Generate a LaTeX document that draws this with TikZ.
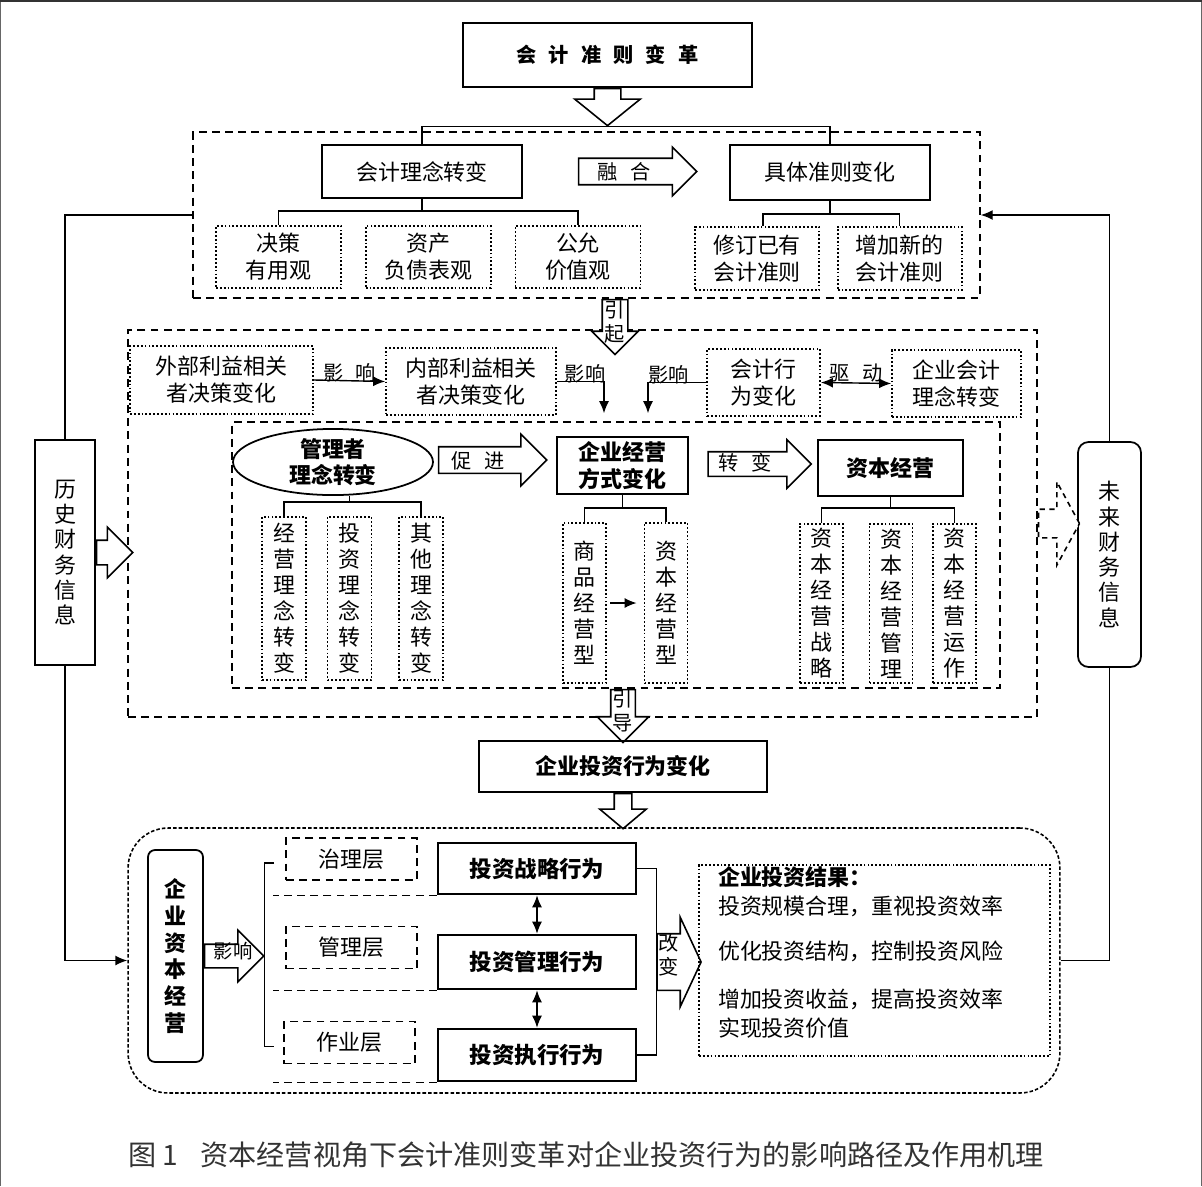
\documentclass[tikz,border=0pt]{standalone}
\usepackage{fontspec}
\setmainfont{Noto Sans CJK SC}
\usetikzlibrary{arrows.meta,positioning,calc,shapes.geometric,shapes.arrows}

\newcommand{\zsp}[1][0.6em]{\hspace{#1}}

\begin{document}
\begin{tikzpicture}[
    x=0.02cm, y=-0.02cm,
    font=\fontsize{12.5}{15}\selectfont,
    box/.style={draw, line width=1pt, align=center, inner sep=1pt},
    bbox/.style={box, font=\fontsize{12.5}{15}\selectfont\bfseries},
    dotbox/.style={draw, line width=1pt, dash pattern=on 1pt off 1.2pt, align=center,
                   inner sep=1pt, font=\fontsize{12.5}{15.5}\selectfont},
    vbox/.style={dotbox, font=\fontsize{12.5}{14.8}\selectfont},
    grp/.style={draw, line width=0.9pt, dash pattern=on 4.5pt off 3pt, inner sep=0pt},
    lay/.style={draw, line width=0.9pt, dash pattern=on 4.5pt off 3pt, align=center},
    harr/.style={single arrow, draw, fill=white, line width=0.9pt, inner xsep=0pt,
                 single arrow tip angle=90},
    tag/.style={inner sep=0pt, align=center, font=\fontsize{11.5}{14}\selectfont},
    link/.style={line width=0.8pt},
    arr/.style={link, -{Latex[length=2.4mm,width=2mm]}},
    darr/.style={link, {Latex[length=2.4mm,width=2mm]}-{Latex[length=2.4mm,width=2mm]}}
  ]
  \useasboundingbox (0,0) rectangle (1202,1186);
  \draw[black!60, line width=0.6pt] (0,1186) -- (0,0) -- (1202,0) -- (1202,1186);
  \draw[black!80, line width=2pt] (0,0) -- (1202,0);

  % standards reform
  \node[bbox, minimum width=5.78cm, minimum height=1.28cm,
        font=\fontsize{11.5}{14}\selectfont\bfseries] (title) at (607.5,55)
        {会\zsp{}计\zsp{}准\zsp{}则\zsp{}变\zsp{}革};
  \node[grp, minimum width=15.74cm, minimum height=3.32cm] (grpA) at (586.5,215) {};
  \node[harr, rotate=-90, anchor=tail, minimum height=0.74cm, inner ysep=0.25cm,
        single arrow head extend=0.39cm, single arrow tip angle=102] (arrTop) at (title.south) {};
  \node[box, minimum width=4cm, minimum height=1.06cm] (idea) at (422,171.5) {会计理念转变};
  \node[box, minimum width=4cm, minimum height=1.1cm] (rule) at (830,172.5) {具体准则变化};
  \node[harr, minimum height=2.36cm, inner ysep=0.25cm, single arrow head extend=0.22cm] (arrFuse) at (631,171.5) {};
  \node[tag] (lblFuse) at (624,172) {融\zsp{}合};
  \node[dotbox, minimum width=2.5cm, minimum height=1.24cm] (v1) at (278.5,257) {决策\\有用观};
  \node[dotbox, minimum width=2.5cm, minimum height=1.24cm, right=0.46cm of v1] (v2) {资产\\负债表观};
  \node[dotbox, minimum width=2.5cm, minimum height=1.24cm, right=0.46cm of v2] (v3) {公允\\价值观};
  \node[dotbox, minimum width=2.48cm, minimum height=1.26cm] (r1) at (757,258.5) {修订已有\\会计准则};
  \node[dotbox, minimum width=2.48cm, minimum height=1.26cm, right=0.34cm of r1] (r2) {增加新的\\会计准则};

  \draw[link] (idea.north) |- (arrTop.tip) -| (rule.north);
  \coordinate (jA) at ($(v1.north)+(0,-14)$);
  \draw[link] (v1.north) -- (jA) -| (v3.north);
  \draw[link] (idea.south) -- (idea.south |- jA);
  \coordinate (jR) at ($(r1.north)+(6,-12)$);
  \draw[link] (jR |- r1.north) -- (jR) -| (r2.north);
  \draw[link] (rule.south) -- (rule.south |- jR);

  % stakeholders and operation mode
  \node[grp, minimum width=18.18cm, minimum height=7.74cm] (grpB) at (582.5,523.5) {};
  \node[grp, minimum width=15.36cm, minimum height=5.32cm] (grpC) at (616,555) {};
  \node[harr, rotate=-90, anchor=tail, minimum height=1.1cm, inner ysep=0.24cm,
        single arrow head extend=0.21cm] (arrCause) at ($(grpA.south)+(28.5,0)$) {};
  \node[tag, font=\fontsize{11.5}{14}\selectfont] (lblCause) at (615,322) {引\\起};

  \node[dotbox, minimum width=3.66cm, minimum height=1.36cm] (ext) at (221.5,380) {外部利益相关\\者决策变化};
  \node[dotbox, minimum width=3.4cm, minimum height=1.34cm] (int) at (471,381.5) {内部利益相关\\者决策变化};
  \node[dotbox, minimum width=2.26cm, minimum height=1.34cm] (acct) at (763.5,382.5) {会计行\\为变化};
  \node[dotbox, minimum width=2.58cm, minimum height=1.34cm] (firm) at (956.5,383.5) {企业会计\\理念转变};
  \draw[arr] (ext.east) -- node[tag, above=-1pt] (lblExt) {影\zsp{}响} (int.west);
  \coordinate (inA) at ($(grpC.north)+(-12,-8)$);
  \coordinate (inB) at ($(grpC.north)+(32,-8)$);
  \draw[arr] (int.east) -| node[tag, pos=0.3, above=-1pt] (lblInt) {影响} (inA);
  \draw[arr] (acct.west) -| node[tag, pos=0.32, above=-1pt] (lblAcct) {影响} (inB);
  \draw[darr] (acct.east) -- node[tag, above=0pt] (lblDrive) {驱\zsp{}动} (firm.west);

  \node[ellipse, draw, line width=1pt, inner sep=0pt, minimum width=4cm, minimum height=1.2cm,
        align=center, font=\fontsize{12.5}{14.5}\selectfont\bfseries] (mgr) at (333,462) {管理者\\理念转变};
  \node[harr, minimum height=2.16cm, inner ysep=0.25cm, single arrow head extend=0.25cm] (arrPromote) at (486,460) {};
  \node[tag] (lblPromote) at (478,461) {促\zsp{}进};
  \node[bbox, minimum width=2.62cm, minimum height=1.14cm] (mode) at (622.5,465.5) {企业经营\\方式变化};
  \node[harr, minimum height=2.06cm, inner ysep=0.23cm, single arrow head extend=0.24cm] (arrTurn) at (753.5,464) {};
  \node[tag] (lblTurn) at (745,463) {转\zsp{}变};
  \node[bbox, minimum width=2.9cm, minimum height=1.12cm] (cap) at (890.5,468) {资本经营};

  \node[vbox, minimum width=0.88cm, minimum height=3.26cm] (c1) at (284,598.5) {经\\营\\理\\念\\转\\变};
  \node[vbox, minimum width=0.88cm, minimum height=3.26cm] (c2) at (349.5,598.5) {投\\资\\理\\念\\转\\变};
  \node[vbox, minimum width=0.88cm, minimum height=3.26cm] (c3) at (421,598.5) {其\\他\\理\\念\\转\\变};
  \node[vbox, minimum width=0.86cm, minimum height=3.2cm] (m1) at (584.5,603) {商\\品\\经\\营\\型};
  \node[vbox, minimum width=0.86cm, minimum height=3.2cm] (m2) at (666,603) {资\\本\\经\\营\\型};
  \node[vbox, minimum width=0.86cm, minimum height=3.18cm] (k1) at (821.5,603.5) {资\\本\\经\\营\\战\\略};
  \node[vbox, minimum width=0.86cm, minimum height=3.18cm] (k2) at (891,603.5) {资\\本\\经\\营\\管\\理};
  \node[vbox, minimum width=0.86cm, minimum height=3.18cm] (k3) at (954.5,603.5) {资\\本\\经\\营\\运\\作};

  \coordinate (jC) at ($(c1.north)+(0,-14)$);
  \draw[link] (c1.north) -- (jC) -| (c3.north);
  \draw[link] (c2.north |- mgr.south) -- (c2.north |- jC);
  \coordinate (jM) at ($(m1.north)+(0,-14)$);
  \draw[link] (m1.north) -- (jM) -| (m2.north);
  \draw[link] (mode.south) -- (mode.south |- jM);
  \coordinate (jK) at ($(k1.north)+(0,-15)$);
  \draw[link] (k1.north) -- (jK) -| (k3.north);
  \draw[link] (cap.south) -- (cap.south |- jK);
  \draw[arr, shorten <=2pt, shorten >=4pt] (m1.east) -- (m2.west);

  % investment behaviour
  \node[harr, rotate=-90, anchor=tail, minimum height=1.06cm, inner ysep=0.23cm,
        single arrow head extend=0.27cm] (arrGuide) at ($(grpC.south)+(7,0)$) {};
  \node[tag] (lblGuide) at (623,711) {引\\导};
  \node[bbox, minimum width=5.76cm, minimum height=1.02cm] (invest) at (623,766.5) {企业投资行为变化};
  \node[harr, rotate=-90, anchor=tail, minimum height=0.7cm, inner ysep=0.16cm,
        single arrow head extend=0.29cm, single arrow tip angle=100] (arrInv) at (invest.south) {};

  \node[draw, line width=0.9pt, dash pattern=on 2pt off 1.2pt, rounded corners=0.8cm,
        minimum width=18.64cm, minimum height=5.3cm] (grpD) at (594,960.5) {};
  \node[box, rounded corners=4pt, minimum width=1.1cm, minimum height=4.24cm,
        font=\fontsize{12.5}{15.3}\selectfont\bfseries] (capOp) at (175.5,956) {企\\业\\资\\本\\经\\营};
  \node[harr, anchor=tail, minimum height=1.18cm, inner ysep=0.22cm,
        single arrow head extend=0.28cm] (arrInf) at (capOp.east) {};
  \node[tag, font=\fontsize{11}{13}\selectfont] (lblInf) at (233,951) {影响};

  \node[lay, minimum width=2.62cm, minimum height=0.84cm] (gov) at (351.5,859) {治理层};
  \node[lay, minimum width=2.62cm, minimum height=0.84cm] (mid) at (351.5,947.5) {管理层};
  \node[lay, minimum width=2.62cm, minimum height=0.84cm] (ops) at (349.5,1042.5) {作业层};
  \node[bbox, line width=1.5pt, minimum width=3.96cm, minimum height=1.02cm,
        font=\fontsize{12.8}{15}\selectfont\bfseries] (strat) at (537,868.5) {投资战略行为};
  \node[bbox, line width=1.5pt, minimum width=3.96cm, minimum height=1.08cm,
        font=\fontsize{12.8}{15}\selectfont\bfseries] (mgmt) at (537,962) {投资管理行为};
  \node[bbox, line width=1.5pt, minimum width=3.96cm, minimum height=1.04cm,
        font=\fontsize{12.8}{15}\selectfont\bfseries] (exe) at (537,1055) {投资执行行为};

  \draw[link] ($(gov.west)+(-11,4)$) -| (arrInf.tip) |- ($(ops.west)+(-9,4)$);
  \draw[lay] (strat.south west) -- ++(-164,0);
  \draw[lay] (mgmt.south west) -- ++(-164,0);
  \draw[lay] (exe.south west) -- ++(-164,0);
  \draw[darr] (strat.south) -- (mgmt.north);
  \draw[darr] (mgmt.south) -- (exe.north);
  \coordinate (jS) at ($(strat.east)+(19,0)$);
  \draw[link] (strat.east) -- (jS) |- (exe.east);
  \node[harr, anchor=tail, minimum height=0.88cm, inner ysep=0.55cm,
        single arrow head extend=0.33cm, single arrow tip angle=130] (arrChg) at (jS |- mgmt.east) {};
  \node[tag] (lblChg) at (669,955) {改\\变};

  \node[dotbox, align=left, minimum width=7.02cm, minimum height=3.78cm, inner xsep=0.38cm,
        text width=6.26cm, font=\fontsize{12.5}{16.5}\selectfont] (res) at (874.5,960.5)
        {\textbf{企业投资结果：}\\
         投资规模合理，重视投资效率\\[9pt]
         优化投资结构，控制投资风险\\[11pt]
         增加投资收益，提高投资效率\\
         实现投资价值\rule[-10pt]{0pt}{0pt}};

  % financial information loop
  \node[box, minimum width=1.2cm, minimum height=4.5cm, font=\fontsize{12.5}{14.4}\selectfont] (hist) at (65,552.5) {历\\史\\财\\务\\信\\息};
  \node[harr, anchor=tail, minimum height=0.72cm, inner ysep=0.23cm,
        single arrow head extend=0.26cm] (arrHist) at (hist.east) {};
  \node[box, rounded corners=6pt, minimum width=1.26cm, minimum height=4.5cm,
        font=\fontsize{12.5}{14.4}\selectfont] (fut) at (1109.5,554.5) {未\\来\\财\\务\\信\\息};
  \node[harr, dash pattern=on 3pt off 2.5pt, anchor=tail, minimum height=0.82cm, inner ysep=0.27cm,
        single arrow head extend=0.55cm, single arrow tip angle=123] (arrFut) at (grpB.east) {};

  \draw[link] (grpA.west) -| (hist.north);
  \draw[arr] (hist.south) |- (grpD.west);
  \draw[link] (grpD.east) -| (fut.south);
  \draw[arr] (fut.north) |- (grpA.east);

  \node[font=\fontsize{16}{19}\selectfont, text=black!80] (caption) at (586,1155)
        {图 1\hspace{0.8em}资本经营视角下会计准则变革对企业投资行为的影响路径及作用机理};
\end{tikzpicture}
\end{document}
